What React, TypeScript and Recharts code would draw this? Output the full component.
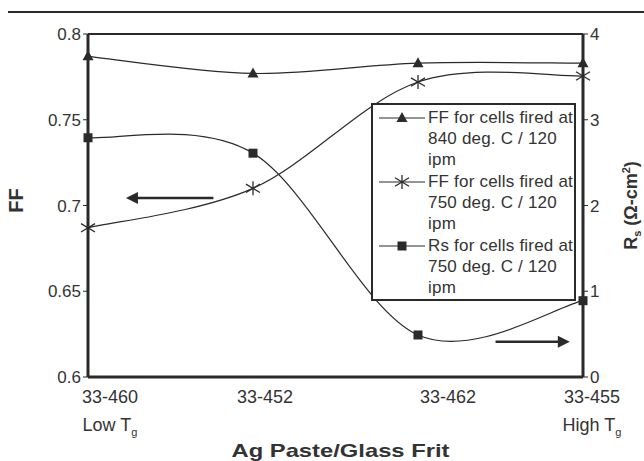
import React from 'react';
import { LineChart, Line, XAxis, YAxis, ReferenceLine, Label } from 'recharts';

// categories on the x axis
const frits = ['33-460', '33-452', '33-462', '33-455'];
const tgNotes = ['Low', '', '', 'High'];

// FF (left axis)
const ff840 = [0.787, 0.777, 0.783, 0.783];
const ff750 = [0.687, 0.71, 0.772, 0.7755];
// Rs in ohm-cm^2 (right axis)
const rs750 = [2.79, 2.61, 0.49, 0.89];

const ffTicks = [0.6, 0.65, 0.7, 0.75, 0.8];
const rsTicks = [0, 1, 2, 3, 4];

const legendItems = [
  { key: 'ff840', marker: 'triangle', lines: ['FF for cells fired at', '840 deg. C / 120', 'ipm'] },
  { key: 'ff750', marker: 'star', lines: ['FF for cells fired at', '750 deg. C / 120', 'ipm'] },
  { key: 'rs750', marker: 'square', lines: ['Rs for cells fired at', '750 deg. C / 120', 'ipm'] },
];

const data = frits.map((name, i) => ({
  idx: i,
  name,
  ff840: ff840[i],
  ff750: ff750[i],
  rs750: rs750[i],
}));

const INK = '#2a2a2a';
const TXT = '#333';
const FONT = '"Liberation Sans", Arial, sans-serif';

// Excel style smoothed line (Catmull-Rom as cubic bezier)
const excelSmooth = (context: any) => {
  let pts: number[][] = [];
  return {
    areaStart() {},
    areaEnd() {},
    lineStart() {
      pts = [];
    },
    point(x: number, y: number) {
      pts.push([+x, +y]);
    },
    lineEnd() {
      if (!pts.length) return;
      context.moveTo(pts[0][0], pts[0][1]);
      for (let i = 0; i < pts.length - 1; i++) {
        const p0 = pts[i - 1] || pts[i];
        const p1 = pts[i];
        const p2 = pts[i + 1];
        const p3 = pts[i + 2] || p2;
        context.bezierCurveTo(
          p1[0] + (p2[0] - p0[0]) / 6,
          p1[1] + (p2[1] - p0[1]) / 6,
          p2[0] - (p3[0] - p1[0]) / 6,
          p2[1] - (p3[1] - p1[1]) / 6,
          p2[0],
          p2[1]
        );
      }
    },
  };
};

const Marker = ({ kind, cx, cy }: { kind: string; cx: number; cy: number }) => {
  if (kind === 'triangle') {
    return <polygon points={`${cx},${cy - 6} ${cx - 5.5},${cy + 4} ${cx + 5.5},${cy + 4}`} fill={INK} />;
  }
  if (kind === 'square') {
    return <rect x={cx - 4.5} y={cy - 4.5} width={9} height={9} fill={INK} />;
  }
  const r = 7;
  return (
    <g stroke={INK} strokeWidth={1.3}>
      <line x1={cx - r} y1={cy - r * 0.6} x2={cx + r} y2={cy + r * 0.6} />
      <line x1={cx - r} y1={cy + r * 0.6} x2={cx + r} y2={cy - r * 0.6} />
      <line x1={cx} y1={cy - r} x2={cx} y2={cy + r} />
    </g>
  );
};

const dotFor = (kind: string) => (props: any) =>
  props.cx == null ? <g key={props.index} /> : <Marker key={props.index} kind={kind} cx={props.cx} cy={props.cy} />;

// Excel placed the category labels a bit off their points
const labelShift = [22, 12, 30, 9];

const FritTick = (props: any) => {
  const { x, y, payload } = props;
  const i = payload.value;
  const cx = x + labelShift[i];
  return (
    <g>
      <text x={cx} y={y + 18} textAnchor="middle" fontSize={18} fill={TXT} fontFamily={FONT}>
        {frits[i]}
      </text>
      {tgNotes[i] ? (
        <text x={cx} y={y + 46} textAnchor="middle" fontSize={18} fill={TXT} fontFamily={FONT}>
          {tgNotes[i]} T
          <tspan fontSize={11} dy={5}>g</tspan>
        </text>
      ) : null}
    </g>
  );
};

const Arrow = (props: any) => {
  const { x1, y1, x2, y2 } = props;
  const dir = x2 > x1 ? 1 : -1;
  return (
    <g>
      <line x1={x1} y1={y1} x2={x2 - dir * 8} y2={y2} stroke={INK} strokeWidth={2.5} />
      <polygon points={`${x2},${y2} ${x2 - dir * 12},${y2 - 6} ${x2 - dir * 12},${y2 + 6}`} fill={INK} />
    </g>
  );
};

const LegendBox = () => (
  <div
    style={{
      position: 'absolute',
      left: 371,
      top: 103,
      boxSizing: 'border-box',
      width: 205,
      height: 198,
      border: `2px solid ${INK}`,
      background: '#fff',
      padding: '2px 0 0 5px',
      fontFamily: FONT,
      fontSize: 17,
      lineHeight: '21px',
      color: TXT,
      letterSpacing: 0.2,
    }}
  >
    {legendItems.map((it) => (
      <div key={it.key} style={{ display: 'flex', marginBottom: 1 }}>
        <svg width={50} height={21} style={{ flex: 'none' }}>
          <line x1={1} y1={11} x2={47} y2={11} stroke={INK} strokeWidth={1.2} />
          <Marker kind={it.marker} cx={24} cy={11} />
        </svg>
        <div style={{ whiteSpace: 'nowrap' }}>
          {it.lines.map((l, k) => (
            <div key={k}>{l}</div>
          ))}
        </div>
      </div>
    ))}
  </div>
);

const RsLabel = (props: any) => {
  const { viewBox } = props;
  const cx = viewBox.x + 54;
  const cy = viewBox.y + viewBox.height / 2;
  return (
    <text
      transform={`translate(${cx},${cy}) rotate(-90)`}
      textAnchor="middle"
      fontSize={18}
      fontWeight="bold"
      fill={TXT}
      fontFamily={FONT}
    >
      R<tspan fontSize={11} dy={4}>s</tspan>
      <tspan dy={-4}> (Ω-cm</tspan>
      <tspan fontSize={11} dy={-7}>2</tspan>
      <tspan dy={7}>)</tspan>
    </text>
  );
};

export default function App() {
  return (
    <div style={{ position: 'absolute', left: 0, top: 0, width: 644, height: 461, background: '#fff' }}>
      <div style={{ position: 'absolute', left: 8, right: 0, top: 11, height: 2, background: INK }} />
      <LineChart
        width={644}
        height={461}
        data={data}
        margin={{ top: 34, right: 11, bottom: 0, left: 28 }}
      >
        <XAxis
          dataKey="idx"
          type="number"
          domain={[0, 3]}
          ticks={[0, 1, 2, 3]}
          interval={0}
          height={84}
          axisLine={{ stroke: INK, strokeWidth: 3 }}
          tickLine={false}
          tick={<FritTick />}
        >
          <Label
            content={(p: any) => (
              <text
                x={p.viewBox.x + p.viewBox.width / 2 + 5}
                y={p.viewBox.y + 80}
                textAnchor="middle"
                fontSize={19}
                fontWeight="bold"
                fill={TXT}
                fontFamily={FONT}
                textLength={218}
                lengthAdjust="spacingAndGlyphs"
              >
                Ag Paste/Glass Frit
              </text>
            )}
          />
        </XAxis>
        <YAxis
          yAxisId="left"
          width={60}
          domain={[0.6, 0.8]}
          ticks={ffTicks}
          tickFormatter={(v: number) => String(v)}
          axisLine={{ stroke: INK, strokeWidth: 3 }}
          tickLine={{ stroke: INK }}
          tickSize={5}
          tick={{ fontSize: 17, fill: TXT, fontFamily: FONT }}
        >
          <Label
            content={(p: any) => (
              <text
                transform={`translate(${p.viewBox.x - 5},${p.viewBox.y + p.viewBox.height / 2 - 5}) rotate(-90)`}
                textAnchor="middle"
                fontSize={20}
                fontWeight="bold"
                fill={TXT}
                fontFamily={FONT}
              >
                FF
              </text>
            )}
          />
        </YAxis>
        <YAxis
          yAxisId="right"
          orientation="right"
          width={50}
          domain={[0, 4]}
          ticks={rsTicks}
          axisLine={{ stroke: INK, strokeWidth: 3 }}
          tickLine={{ stroke: INK }}
          tickSize={5}
          tick={{ fontSize: 17, fill: TXT, fontFamily: FONT }}
        >
          <Label content={<RsLabel />} />
        </YAxis>
        <ReferenceLine yAxisId="left" y={0.8} stroke={INK} strokeWidth={2} />
        <ReferenceLine
          yAxisId="left"
          segment={[
            { x: 0.76, y: 0.7044 },
            { x: 0.23, y: 0.7044 },
          ]}
          shape={<Arrow />}
        />
        <ReferenceLine
          yAxisId="right"
          segment={[
            { x: 2.47, y: 0.41 },
            { x: 2.92, y: 0.41 },
          ]}
          shape={<Arrow />}
        />
        <Line
          yAxisId="left"
          dataKey="ff840"
          type={excelSmooth as any}
          stroke={INK}
          strokeWidth={1.2}
          dot={dotFor('triangle')}
          isAnimationActive={false}
        />
        <Line
          yAxisId="left"
          dataKey="ff750"
          type={excelSmooth as any}
          stroke={INK}
          strokeWidth={1.2}
          dot={dotFor('star')}
          isAnimationActive={false}
        />
        <Line
          yAxisId="right"
          dataKey="rs750"
          type={excelSmooth as any}
          stroke={INK}
          strokeWidth={1.2}
          dot={dotFor('square')}
          isAnimationActive={false}
        />
      </LineChart>
      <LegendBox />
    </div>
  );
}
